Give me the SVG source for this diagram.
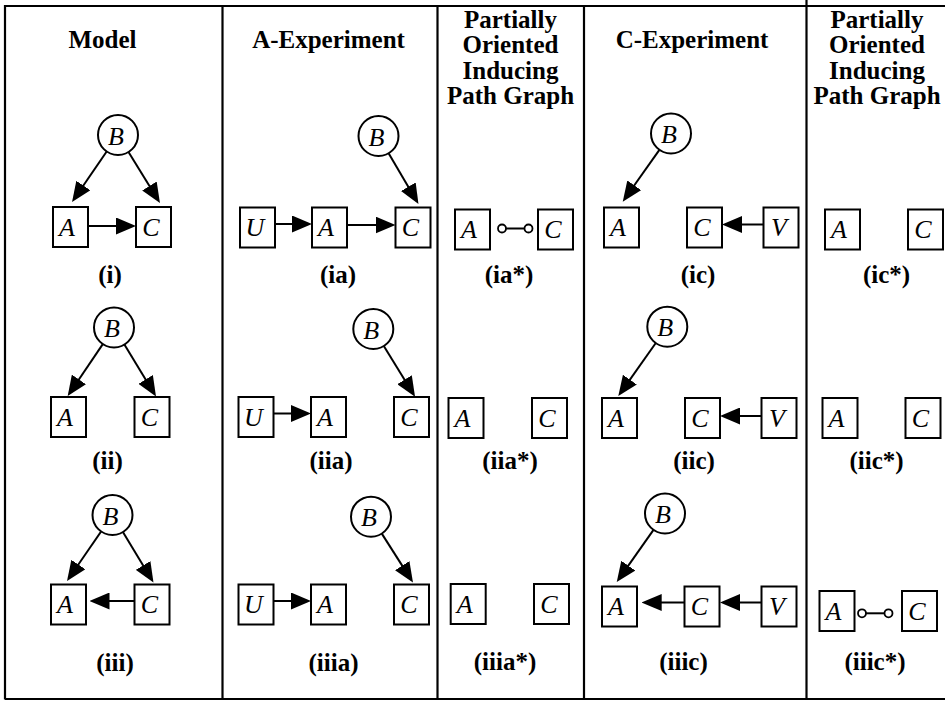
<svg xmlns="http://www.w3.org/2000/svg" width="945" height="701" viewBox="0 0 945 701">
<defs>
<marker id="ah" markerUnits="userSpaceOnUse" markerWidth="20" markerHeight="17" refX="10" refY="8.5" orient="auto" viewBox="0 0 20 17"><path d="M0,0 L20,8.5 L0,17 z" fill="#000"/></marker>
<style>
.frame{stroke:#000;stroke-width:2.2;fill:none}
.box{fill:#fff;stroke:#000;stroke-width:2}
.circ{fill:#fff;stroke:#000;stroke-width:2}
.e{stroke:#000;stroke-width:2;fill:none}
.a{stroke:#000;stroke-width:2;fill:none;marker-end:url(#ah)}
.oo{fill:#fff;stroke:#000;stroke-width:1.8}
.lab{font-family:"Liberation Serif","Times New Roman",serif;font-style:italic;font-size:26px;text-anchor:middle}
.hd{font-family:"Liberation Serif","Times New Roman",serif;font-weight:bold;font-size:25px;text-anchor:middle}
.cap{font-family:"Liberation Serif","Times New Roman",serif;font-weight:bold;font-size:25px;text-anchor:middle}
</style>
</defs>
<rect width="945" height="701" fill="#fff"/>
<g id="frame" class="frame">
<path d="M5,6 H945 M5,5 V699.5 M5,699 H945 M222.5,5 V699 M437.5,5 V699 M584,5 V699 M806.5,0 V699"/>
</g>
<g id="headers">
<text class="hd" x="102.5" y="48">Model</text>
<text class="hd" x="328.5" y="48">A-Experiment</text>
<text class="hd" x="510.5" y="27.5">Partially</text>
<text class="hd" x="510.5" y="53">Oriented</text>
<text class="hd" x="510.5" y="78.5">Inducing</text>
<text class="hd" x="510.5" y="104">Path Graph</text>
<text class="hd" x="692" y="48">C-Experiment</text>
<text class="hd" x="877" y="27.5">Partially</text>
<text class="hd" x="877" y="53">Oriented</text>
<text class="hd" x="877" y="78.5">Inducing</text>
<text class="hd" x="877" y="104">Path Graph</text>
</g>
<g id="connectors">
<line class="a" x1="106.7" y1="151.5" x2="77.7" y2="193.8"/>
<line class="a" x1="128.5" y1="152" x2="154.7" y2="194.5"/>
<line class="a" x1="89" y1="226" x2="126" y2="226"/>
<line class="a" x1="275" y1="224" x2="302" y2="224"/>
<line class="a" x1="347" y1="225" x2="385.5" y2="225"/>
<line class="a" x1="388.6" y1="153.2" x2="413.4" y2="195.4"/>
<line class="e" x1="506" y1="228.5" x2="524.5" y2="228.5"/>
<circle class="oo" cx="502" cy="228.5" r="4"/>
<circle class="oo" cx="528.5" cy="228.5" r="4"/>
<line class="a" x1="659.4" y1="149.8" x2="628.5" y2="193.5"/>
<line class="a" x1="763.5" y1="224.5" x2="732" y2="224.5"/>
<line class="a" x1="102.8" y1="344.1" x2="73.3" y2="387.7"/>
<line class="a" x1="124.4" y1="344.6" x2="150.8" y2="388"/>
<line class="a" x1="273.5" y1="413.5" x2="301" y2="413.5"/>
<line class="a" x1="383.8" y1="346" x2="409.8" y2="388.2"/>
<line class="a" x1="655.8" y1="343" x2="624.1" y2="387.8"/>
<line class="a" x1="761.5" y1="416" x2="730" y2="416"/>
<line class="a" x1="101.1" y1="531.5" x2="72.7" y2="572.8"/>
<line class="a" x1="122.9" y1="532.1" x2="148.3" y2="574"/>
<line class="a" x1="134.5" y1="601" x2="99.5" y2="601"/>
<line class="a" x1="273.5" y1="601" x2="301" y2="601"/>
<line class="a" x1="381.8" y1="533.6" x2="407.6" y2="574.1"/>
<line class="a" x1="653.5" y1="529.8" x2="622.5" y2="573.8"/>
<line class="a" x1="685" y1="602.5" x2="651.7" y2="602.5"/>
<line class="a" x1="761.5" y1="602.5" x2="730" y2="602.5"/>
<line class="e" x1="866" y1="613.3" x2="884.5" y2="613.3"/>
<circle class="oo" cx="862" cy="613.3" r="4"/>
<circle class="oo" cx="888.5" cy="613.3" r="4"/>
</g>
<g id="i-B"><circle class="circ" cx="118" cy="135" r="20"/><text class="lab" x="116" y="144.5">B</text></g>
<g id="i-A"><rect class="box" x="53" y="207" width="35" height="40"/><text class="lab" x="67" y="235.5">A</text></g>
<g id="i-C"><rect class="box" x="136" y="207" width="35" height="40"/><text class="lab" x="151" y="235.5">C</text></g>
<g id="ia-B"><circle class="circ" cx="378.5" cy="136" r="20"/><text class="lab" x="376.5" y="145.5">B</text></g>
<g id="ia-U"><rect class="box" x="240" y="207.5" width="35" height="40"/><text class="lab" x="255" y="236">U</text></g>
<g id="ia-A"><rect class="box" x="312" y="207.5" width="35" height="40"/><text class="lab" x="326" y="236">A</text></g>
<g id="ia-C"><rect class="box" x="395.5" y="207.5" width="35" height="40"/><text class="lab" x="410.5" y="236">C</text></g>
<g id="ias-A"><rect class="box" x="455" y="209.5" width="35" height="40"/><text class="lab" x="469" y="238">A</text></g>
<g id="ias-C"><rect class="box" x="538" y="209.5" width="35" height="40"/><text class="lab" x="553" y="238">C</text></g>
<g id="ic-B"><circle class="circ" cx="671" cy="133.5" r="20"/><text class="lab" x="669" y="143">B</text></g>
<g id="ic-A"><rect class="box" x="604" y="207.5" width="35" height="40"/><text class="lab" x="618" y="236">A</text></g>
<g id="ic-C"><rect class="box" x="687" y="207.5" width="35" height="40"/><text class="lab" x="702" y="236">C</text></g>
<g id="ic-V"><rect class="box" x="763.5" y="207.5" width="35" height="40"/><text class="lab" x="779" y="236">V</text></g>
<g id="ics-A"><rect class="box" x="825" y="209.5" width="35" height="40"/><text class="lab" x="839" y="238">A</text></g>
<g id="ics-C"><rect class="box" x="908" y="209.5" width="35" height="40"/><text class="lab" x="923" y="238">C</text></g>
<g id="ii-B"><circle class="circ" cx="114" cy="327.5" r="20"/><text class="lab" x="112" y="337">B</text></g>
<g id="ii-A"><rect class="box" x="51" y="397" width="35" height="40"/><text class="lab" x="65" y="425.5">A</text></g>
<g id="ii-C"><rect class="box" x="134.5" y="397" width="35" height="40"/><text class="lab" x="149.5" y="425.5">C</text></g>
<g id="iia-B"><circle class="circ" cx="373.3" cy="329" r="20"/><text class="lab" x="371.3" y="338.5">B</text></g>
<g id="iia-U"><rect class="box" x="238.5" y="397" width="35" height="40"/><text class="lab" x="253.5" y="425.5">U</text></g>
<g id="iia-A"><rect class="box" x="311" y="397" width="35" height="40"/><text class="lab" x="325" y="425.5">A</text></g>
<g id="iia-C"><rect class="box" x="394" y="397" width="35" height="40"/><text class="lab" x="409" y="425.5">C</text></g>
<g id="iias-A"><rect class="box" x="448.5" y="398" width="35" height="40"/><text class="lab" x="462.5" y="426.5">A</text></g>
<g id="iias-C"><rect class="box" x="532" y="398" width="35" height="40"/><text class="lab" x="547" y="426.5">C</text></g>
<g id="iic-B"><circle class="circ" cx="667.3" cy="326.7" r="20"/><text class="lab" x="665.3" y="336.2">B</text></g>
<g id="iic-A"><rect class="box" x="602" y="398" width="35" height="40"/><text class="lab" x="616" y="426.5">A</text></g>
<g id="iic-C"><rect class="box" x="685" y="398" width="35" height="40"/><text class="lab" x="700" y="426.5">C</text></g>
<g id="iic-V"><rect class="box" x="761.5" y="398" width="35" height="40"/><text class="lab" x="777" y="426.5">V</text></g>
<g id="iics-A"><rect class="box" x="822.5" y="398" width="35" height="40"/><text class="lab" x="836.5" y="426.5">A</text></g>
<g id="iics-C"><rect class="box" x="905.5" y="398" width="35" height="40"/><text class="lab" x="920.5" y="426.5">C</text></g>
<g id="iii-B"><circle class="circ" cx="112.5" cy="515" r="20"/><text class="lab" x="110.5" y="524.5">B</text></g>
<g id="iii-A"><rect class="box" x="51" y="584.5" width="35" height="40"/><text class="lab" x="65" y="613">A</text></g>
<g id="iii-C"><rect class="box" x="134.5" y="584.5" width="35" height="40"/><text class="lab" x="149.5" y="613">C</text></g>
<g id="iiia-B"><circle class="circ" cx="371" cy="516.7" r="20"/><text class="lab" x="369" y="526.2">B</text></g>
<g id="iiia-U"><rect class="box" x="238.5" y="584.5" width="35" height="40"/><text class="lab" x="253.5" y="613">U</text></g>
<g id="iiia-A"><rect class="box" x="311" y="584.5" width="35" height="40"/><text class="lab" x="325" y="613">A</text></g>
<g id="iiia-C"><rect class="box" x="394" y="584.5" width="35" height="40"/><text class="lab" x="409" y="613">C</text></g>
<g id="iiias-A"><rect class="box" x="450.7" y="584" width="35" height="40"/><text class="lab" x="464.7" y="612.5">A</text></g>
<g id="iiias-C"><rect class="box" x="534" y="584" width="35" height="40"/><text class="lab" x="549" y="612.5">C</text></g>
<g id="iiic-B"><circle class="circ" cx="665" cy="513.5" r="20"/><text class="lab" x="663" y="523">B</text></g>
<g id="iiic-A"><rect class="box" x="602" y="586.5" width="35" height="40"/><text class="lab" x="616" y="615">A</text></g>
<g id="iiic-C"><rect class="box" x="684.5" y="586.5" width="35" height="40"/><text class="lab" x="699.5" y="615">C</text></g>
<g id="iiic-V"><rect class="box" x="761.5" y="586.5" width="35" height="40"/><text class="lab" x="777" y="615">V</text></g>
<g id="iiics-A"><rect class="box" x="819.5" y="591" width="35" height="40"/><text class="lab" x="833.5" y="619.5">A</text></g>
<g id="iiics-C"><rect class="box" x="902" y="591" width="35" height="40"/><text class="lab" x="917" y="619.5">C</text></g>
<g id="captions">
<text class="cap" x="110" y="283">(i)</text>
<text class="cap" x="338" y="283">(ia)</text>
<text class="cap" x="509" y="283">(ia*)</text>
<text class="cap" x="698" y="283">(ic)</text>
<text class="cap" x="886.5" y="283">(ic*)</text>
<text class="cap" x="107.5" y="469">(ii)</text>
<text class="cap" x="331" y="469">(iia)</text>
<text class="cap" x="510" y="469">(iia*)</text>
<text class="cap" x="694" y="469">(iic)</text>
<text class="cap" x="876.5" y="469">(iic*)</text>
<text class="cap" x="115" y="671">(iii)</text>
<text class="cap" x="333.5" y="671">(iiia)</text>
<text class="cap" x="505" y="670">(iiia*)</text>
<text class="cap" x="683.5" y="670">(iiic)</text>
<text class="cap" x="875" y="670">(iiic*)</text>
</g>
</svg>
